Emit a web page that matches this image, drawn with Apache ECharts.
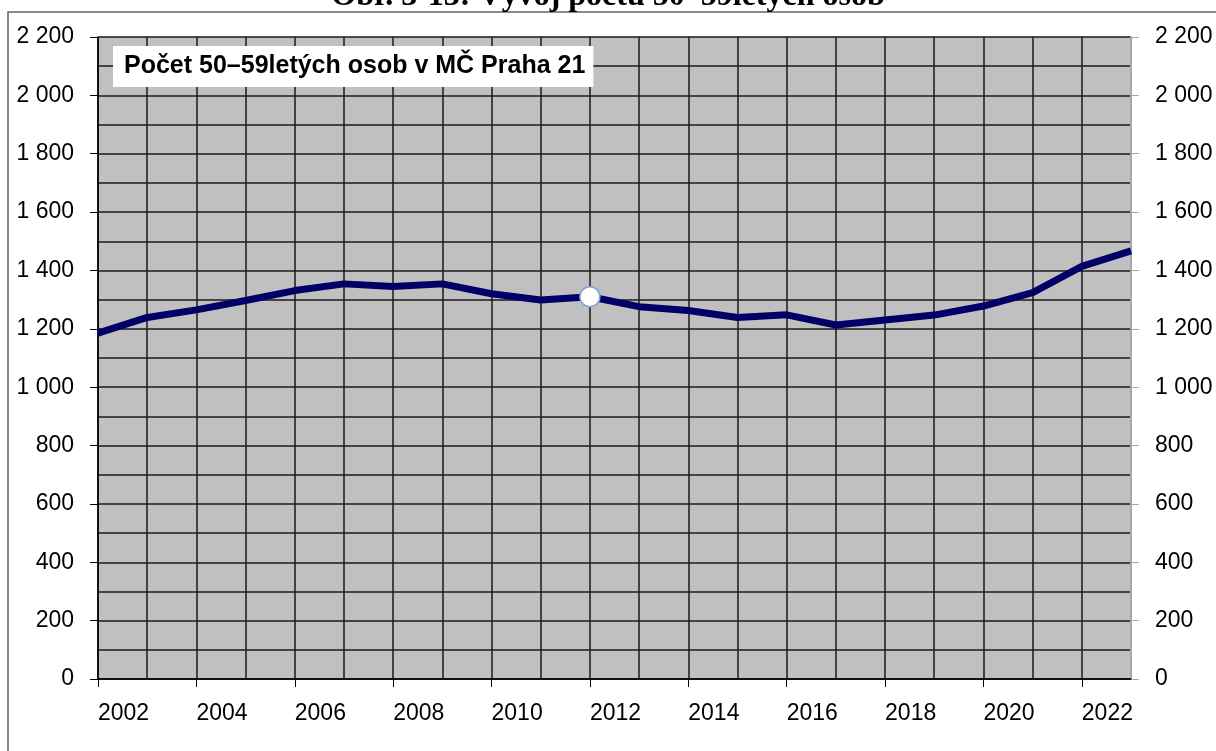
<!DOCTYPE html>
<html>
<head>
<meta charset="utf-8">
<script src="https://cdn.jsdelivr.net/npm/echarts@6/dist/echarts.min.js"></script>
<style>
  html, body { margin: 0; padding: 0; background: #fff; }
  #chart-box { width: 1216px; height: 751px; }
</style>
</head>
<body>
<div id="chart-box"></div>
<script>
// data
const years = ['2002', '2003', '2004', '2005', '2006', '2007', '2008', '2009', '2010', '2011', '2012',
  '2013', '2014', '2015', '2016', '2017', '2018', '2019', '2020', '2021', '2022', '2023']
const persons5059 = [1185, 1239, 1265, 1297, 1331, 1354, 1345, 1354, 1320, 1299, 1310,
  1276, 1263, 1239, 1248, 1213, 1230, 1247, 1278, 1324, 1414, 1467]
const yMin = 0
const yMax = 2200
const yStep = 200
const markedYear = '2012'
const seriesName = 'Počet 50–59letých osob v MČ Praha 21'
const figureTitle = 'Obr. 3-13: Vývoj počtu 50–59letých osob'

const fmt = v => v >= 1000 ? Math.floor(v / 1000) + ' ' + String(v % 1000).padStart(3, '0') : String(v)
const font = 'Liberation Sans'

const chart = echarts.init(document.getElementById('chart-box'))
const option = {
  animation: false,
  backgroundColor: '#fff',
  title: [
    {
      text: figureTitle,
      left: 'center',
      top: -24,
      textStyle: { fontFamily: 'Liberation Serif', fontWeight: 'bold', fontSize: 32, color: '#000' }
    },
    {
      text: seriesName,
      left: 113,
      top: 46,
      padding: [8, 8, 8, 11],
      backgroundColor: '#fff',
      textStyle: { fontFamily: font, fontWeight: 'bold', fontSize: 25, color: '#000' }
    }
  ],
  graphic: [
    {
      type: 'rect',
      shape: { x: 8, y: 12, width: 1400, height: 900 },
      style: { fill: 'none', stroke: '#666', lineWidth: 1.5 },
      silent: true
    }
  ],
  grid: { left: 98, right: 85, top: 37, bottom: 72, show: true, backgroundColor: '#c0c0c0', borderWidth: 0 },
  xAxis: {
    type: 'category',
    data: years,
    boundaryGap: false,
    axisLine: { lineStyle: { color: '#000', width: 1.5 } },
    axisTick: { show: true, interval: 1, length: 8, lineStyle: { color: '#000' } },
    axisLabel: {
      interval: 1,
      align: 'left',
      margin: 23,
      fontFamily: font,
      fontSize: 23,
      color: '#000'
    },
    splitLine: { show: true, interval: 0, lineStyle: { color: '#1a1a1a', width: 1.5 } }
  },
  yAxis: [
    {
      type: 'value',
      min: yMin,
      max: yMax,
      interval: yStep,
      axisLine: { show: true, lineStyle: { color: '#000', width: 1.5 } },
      axisTick: { show: true, length: 8, lineStyle: { color: '#000' } },
      axisLabel: { margin: 24, fontFamily: font, fontSize: 23, color: '#000', formatter: fmt },
      splitLine: { show: true, lineStyle: { color: '#1a1a1a', width: 1.5 } },
      minorTick: { show: false, splitNumber: 2 },
      minorSplitLine: { show: true, lineStyle: { color: '#1a1a1a', width: 1.5 } }
    },
    {
      type: 'value',
      position: 'right',
      min: yMin,
      max: yMax,
      interval: yStep,
      axisLine: { show: true, lineStyle: { color: '#a6a6a6', width: 2 } },
      axisTick: { show: true, length: 8, lineStyle: { color: '#a6a6a6' } },
      axisLabel: { margin: 24, fontFamily: font, fontSize: 23, color: '#000', formatter: fmt },
      splitLine: { show: false }
    }
  ],
  series: [
    {
      name: seriesName,
      type: 'line',
      symbol: 'none',
      showSymbol: true,
      lineStyle: { color: '#000066', width: 7 },
      itemStyle: { color: '#000066' },
      data: persons5059.map((v, i) => years[i] === markedYear
        ? { value: v, symbol: 'circle', symbolSize: 20, itemStyle: { color: '#fff', borderColor: '#7fa3d4', borderWidth: 1.5 } }
        : v)
    }
  ]
}
chart.setOption(option)
</script>
</body>
</html>
